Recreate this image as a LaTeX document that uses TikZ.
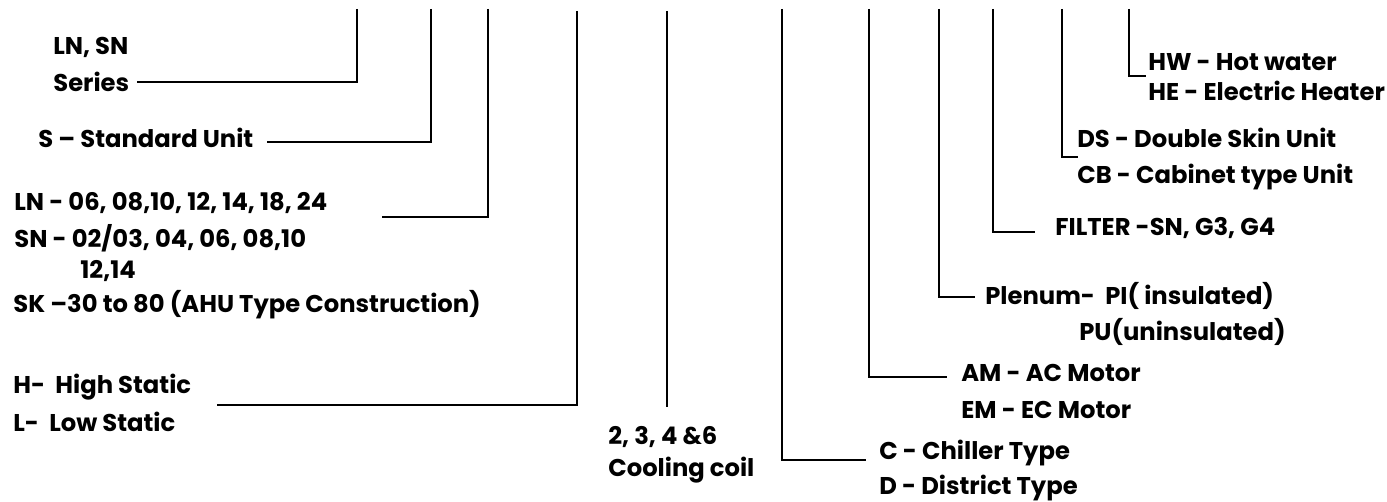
\documentclass[tikz,border=0pt]{standalone}
\usepackage{fontspec}
\setmainfont{Poppins}
\usetikzlibrary{positioning}
\tikzset{
  lbl/.style={anchor=west, inner sep=0pt, text=black,
              font=\fontsize{13.8}{16}\selectfont\bfseries},
  lead/.style={draw=black, line width=0.95pt},
  leadthin/.style={draw=black, line width=0.65pt},
}

\begin{document}
\begin{tikzpicture}[x=0.02cm, y=-0.02cm]
  \useasboundingbox (0,0) rectangle (1387,502);

  % Tops of the code lines
  \coordinate (t1)  at (357,9);
  \coordinate (t2)  at (431,9);
  \coordinate (t3)  at (488,9);
  \coordinate (t4)  at (577,11);
  \coordinate (t5)  at (667,11);
  \coordinate (t6)  at (782,9);
  \coordinate (t7)  at (869,9);
  \coordinate (t8)  at (939,9);
  \coordinate (t9)  at (993,9);
  \coordinate (t10) at (1062,9);
  \coordinate (t11) at (1129,9);

  % Free ends of the leads
  \coordinate (e1)  at (137,82);
  \coordinate (e2)  at (267,142);
  \coordinate (e3)  at (382,217);
  \coordinate (e4)  at (217,405);
  \coordinate (e5)  at (667,407);
  \coordinate (e6)  at (866,460);
  \coordinate (e7)  at (947,377);
  \coordinate (e8)  at (975,297);
  \coordinate (e9)  at (1035,232);
  \coordinate (e10) at (1078,157);
  \coordinate (e11) at (1146,76);

  % Left labels
  \node[lbl] (lnsn)   at (53,47)  {LN, SN};
  \node[lbl] (series) at (53,82)  {Series};
  \node[lbl] (std)    at (38,138) {S -- Standard Unit};
  \node[lbl] (lnsize) at (14,203) {LN - 06, 08,10, 12, 14, 18, 24};
  \node[lbl] (snsize) at (14,238) {SN - 02/03, 04, 06, 08,10};
  \node[lbl] (snmore) at (80,271) {12,14};
  \node[lbl] (sksize) at (13,305) {SK --30 to 80 (AHU Type Construction)};
  \node[lbl] (high)   at (13,387) {H- \ High Static};
  \node[lbl] (low)    at (13,422) {L- \ Low Static};

  % Cooling coil
  \node[lbl] (rows) at (608,437) {2, 3, 4 \&6};
  \node[lbl] (coil) at (608,470) {Cooling coil};

  % Right labels
  \node[lbl] (hw)     at (1148,62)  {HW - Hot water};
  \node[lbl] (he)     at (1148,91)  {HE - Electric Heater};
  \node[lbl] (ds)     at (1077,138) {DS - Double Skin Unit};
  \node[lbl] (cb)     at (1077,177) {CB - Cabinet type Unit};
  \node[lbl] (filter) at (1055,228) {FILTER -SN, G3, G4};
  \node[lbl] (plenum) at (985,296)  {Plenum- \ PI( insulated)};
  \node[lbl] (pu)     at (1079,332) {PU(uninsulated)};
  \node[lbl] (am)     at (961,373)  {AM - AC Motor};
  \node[lbl] (em)     at (961,410)  {EM - EC Motor};
  \node[lbl] (chill)  at (879,453)  {C - Chiller Type};
  \node[lbl] (dist)   at (879,488)  {D - District Type};

  % Leads
  \draw[lead] (t1) |- (e1);
  \draw[lead] (t2) |- (e2);
  \draw[lead] (t3) |- (e3);
  \draw[lead] (t4) |- (e4);
  \draw[lead] (t5) -- (e5);
  \draw[leadthin] (t6)  |- (e6);
  \draw[leadthin] (t7)  |- (e7);
  \draw[leadthin] (t8)  |- (e8);
  \draw[leadthin] (t9)  |- (e9);
  \draw[leadthin] (t10) |- (e10);
  \draw[leadthin] (t11) |- (e11);
\end{tikzpicture}
\end{document}
